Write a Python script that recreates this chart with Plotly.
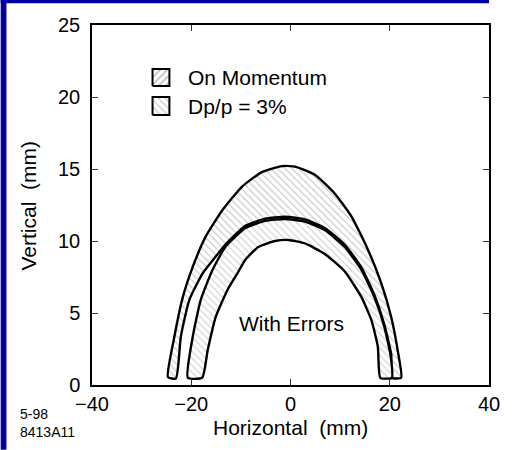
import plotly.graph_objects as go

# Outer arch (upper boundary of outer band)
c1_x = [-24.7, -23.4, -21.7, -19.7, -17.1, -13.7, -9.7, -5.7, -1.7, 0.9, 4.9, 8.9, 12.3, 15.6, 18.3, 20.3, 21.6, 22.3]
c1_y = [0.55, 3.35, 6.1, 8.2, 10.3, 12.15, 13.8, 14.8, 15.2, 15.16, 14.6, 13.3, 11.7, 9.4, 7.06, 4.7, 2.4, 0.5]
# Lower boundary of outer band (left leg, then along middle arch)
c2_x = [-23.1, -22.1, -20.4, -17.7, -15.1, -13.1, -9.1, -5.1, -1.1, 2.9, 6.9, 10.9, 14.3, 16.9, 18.9, 20.3, 20.4]
c2_y = [0.45, 3.35, 5.9, 7.75, 8.9, 9.75, 11.05, 11.55, 11.68, 11.5, 10.9, 9.75, 8.15, 6.25, 4.2, 2.1, 0.5]
# Middle arch (upper boundary of inner band)
c3_x = [-20.7, -19.7, -18.1, -15.7, -13.1, -9.1, -5.1, -1.1, 2.9, 6.9, 10.9, 14.3, 16.9, 18.9, 20.2, 20.4]
c3_y = [0.5, 3.35, 5.9, 8.0, 9.6, 10.9, 11.4, 11.53, 11.35, 10.76, 9.6, 8.0, 6.1, 4.05, 1.97, 0.5]
# Innermost arch (lower boundary of inner band)
c4_x = [-17.8, -16.7, -15.1, -12.7, -10.7, -9.1, -6.4, -3.1, -0.4, 2.9, 6.9, 10.9, 14.3, 16.3, 17.6, 18.1]
c4_y = [0.5, 2.4, 4.7, 6.6, 7.75, 8.7, 9.6, 10.0, 10.07, 9.83, 9.1, 7.9, 6.1, 4.5, 2.66, 0.5]

legend_labels = ["On Momentum", "Dp/p = 3%"]
legend_box_x = [-27.8, -24.4]
legend_box_y = [[20.76, 21.94], [18.75, 20.0]]
legend_patterns = ["/", "\\"]
legend_colors = ["#777777", "#aaaaaa"]

x_ticks = [-40, -20, 0, 20, 40]
y_ticks = [0, 5, 10, 15, 20, 25]

FONT = "Liberation Sans, Arial, sans-serif"
TXT = 21
TICK = 20

fig = go.Figure()

def band(xu, yu, xl, yl, fg):
    xs = list(xu) + list(reversed(xl)) + [xu[0]]
    ys = list(yu) + list(reversed(yl)) + [yu[0]]
    fig.add_trace(go.Scatter(
        x=xs, y=ys, mode="lines", fill="toself", fillcolor="white",
        fillpattern=dict(shape="\\", fgcolor=fg, bgcolor="white", size=5, solidity=0.25),
        line=dict(color="black", width=2.4, shape="spline", smoothing=0.5),
        showlegend=False, hoverinfo="skip"))

band(c1_x, c1_y, c2_x, c2_y, "#999999")
band(c3_x, c3_y, c4_x, c4_y, "#aaaaaa")

for i, lab in enumerate(legend_labels):
    x0, x1 = legend_box_x
    y0, y1 = legend_box_y[i]
    fig.add_trace(go.Scatter(
        x=[x0, x1, x1, x0, x0], y=[y0, y0, y1, y1, y0], mode="lines",
        fill="toself", fillcolor="white",
        fillpattern=dict(shape=legend_patterns[i], fgcolor=legend_colors[i], bgcolor="white", size=5, solidity=0.3),
        line=dict(color="black", width=2), showlegend=False, hoverinfo="skip"))
    fig.add_annotation(x=-21.0, y=(y0 + y1) / 2, text=lab, showarrow=False,
                       xanchor="left", yanchor="middle", font=dict(size=TXT, color="black", family=FONT))

fig.add_annotation(x=0.1, y=4.3, text="With Errors", showarrow=False, xanchor="center", yanchor="middle",
                   font=dict(size=TXT, color="black", family=FONT))

fig.add_annotation(xref="paper", yref="paper", x=-0.16, y=0.5, text="Vertical\u00a0\u00a0(mm)",
                   textangle=-90, showarrow=False, xanchor="center", yanchor="middle",
                   font=dict(size=TXT, color="black", family=FONT))
fig.add_annotation(xref="paper", yref="paper", x=0.5, y=-0.119, text="Horizontal\u00a0\u00a0(mm)",
                   showarrow=False, xanchor="center", yanchor="middle",
                   font=dict(size=TXT, color="black", family=FONT))
fig.add_annotation(xref="paper", yref="paper", x=-0.187, y=-0.106, text="5-98<br>8413A11",
                   showarrow=False, xanchor="left", yanchor="middle", align="left",
                   font=dict(size=14, color="black", family=FONT))

# blue border (left and top strips)
fig.add_shape(type="rect", xref="paper", yref="paper", x0=-0.23, x1=-0.2155, y0=-0.18, y1=1.0694,
              fillcolor="#0000a0", line=dict(width=0), layer="above")
fig.add_shape(type="rect", xref="paper", yref="paper", x0=-0.23, x1=1.0, y0=1.0605, y1=1.0694,
              fillcolor="#0000a0", line=dict(width=0), layer="above")

axis_common = dict(showgrid=False, zeroline=False, showline=True, linecolor="black", linewidth=1.5,
                   mirror="ticks", ticks="inside", ticklen=6, tickwidth=1.2, tickcolor="#333333",
                   tickfont=dict(size=TICK, color="black", family=FONT))

fig.update_xaxes(range=[-40, 40], tickvals=x_ticks, **axis_common)
fig.update_yaxes(range=[0, 25], tickvals=y_ticks, ticklabelstandoff=6, **axis_common)

fig.update_layout(width=512, height=450, margin=dict(l=92, r=20, t=25, b=65),
                  paper_bgcolor="white", plot_bgcolor="white", showlegend=False)

fig.write_html("out.html")
